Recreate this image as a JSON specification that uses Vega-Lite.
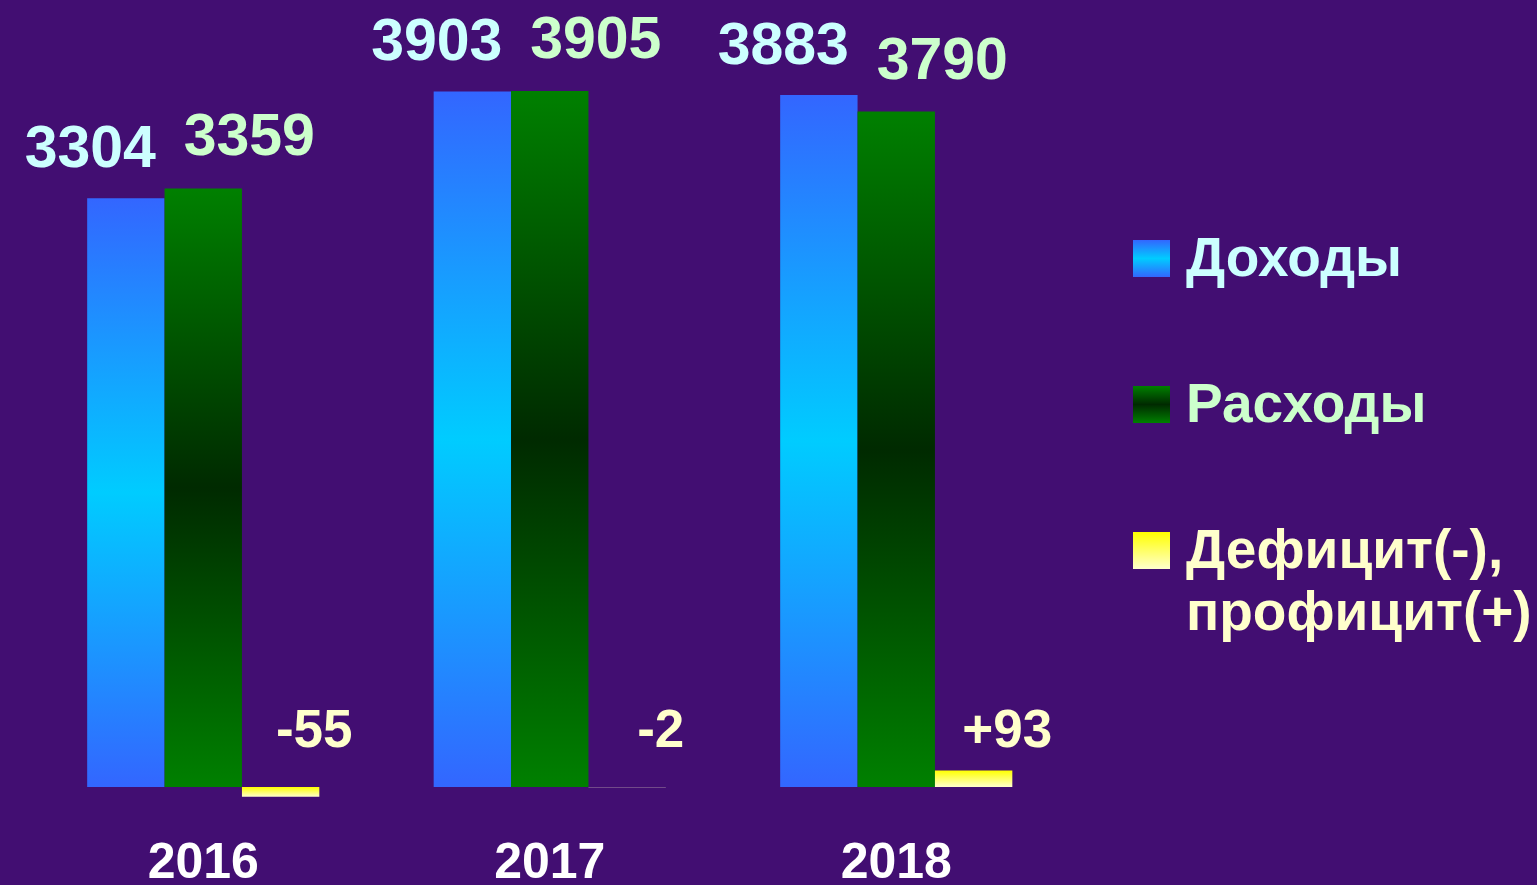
{
  "$schema": "https://vega.github.io/schema/vega-lite/v6.json",
  "width": 1039.5,
  "height": 810,
  "autosize": {"type": "none"},
  "padding": {"left": 30, "top": 0, "right": 467.5, "bottom": 75},
  "background": "#420e72",
  "config": {"view": {"stroke": null}, "font": "Liberation Sans"},
  "data": {
    "values": [
      {"year": "2016", "series": "Доходы", "value": 3304},
      {"year": "2016", "series": "Расходы", "value": 3359},
      {"year": "2016", "series": "Дефицит(-), профицит(+)", "value": -55},
      {"year": "2017", "series": "Доходы", "value": 3903},
      {"year": "2017", "series": "Расходы", "value": 3905},
      {"year": "2017", "series": "Дефицит(-), профицит(+)", "value": -2},
      {"year": "2018", "series": "Доходы", "value": 3883},
      {"year": "2018", "series": "Расходы", "value": 3790},
      {"year": "2018", "series": "Дефицит(-), профицит(+)", "value": 93}
    ]
  },
  "encoding": {
    "x": {
      "field": "year",
      "type": "nominal",
      "scale": {"paddingInner": 0.33, "paddingOuter": 0.165},
      "axis": {
        "title": null,
        "labelAngle": 0,
        "labelFontSize": 50,
        "labelFontWeight": "bold",
        "labelColor": "#ffffff",
        "ticks": false,
        "domain": false,
        "labelPadding": 27
      }
    },
    "y": {
      "field": "value",
      "type": "quantitative",
      "scale": {"domain": [-129, 4416], "nice": false, "zero": false},
      "axis": null
    }
  },
  "layer": [
    {
      "mark": {"type": "bar"},
      "encoding": {
        "xOffset": {
          "field": "series",
          "type": "nominal",
          "sort": ["Доходы", "Расходы", "Дефицит(-), профицит(+)"],
          "scale": {"paddingInner": 0, "paddingOuter": 0}
        },
        "color": {
          "field": "series",
          "type": "nominal",
          "scale": {
            "domain": ["Доходы", "Расходы", "Дефицит(-), профицит(+)"],
            "range": [
              {"expr": "{gradient: 'linear', x1: 0, y1: 0, x2: 0, y2: 1, stops: [{offset: 0, color: '#3366ff'}, {offset: 0.5, color: '#00ccff'}, {offset: 1, color: '#3366ff'}]}"},
              {"expr": "{gradient: 'linear', x1: 0, y1: 0, x2: 0, y2: 1, stops: [{offset: 0, color: '#008000'}, {offset: 0.5, color: '#002a00'}, {offset: 1, color: '#008000'}]}"},
              {"expr": "{gradient: 'linear', x1: 0, y1: 0, x2: 0, y2: 1, stops: [{offset: 0, color: '#ffff00'}, {offset: 1, color: '#ffffcc'}]}"}
            ]
          },
          "legend": {
            "title": null,
            "orient": "none",
            "legendX": 1094,
            "legendY": 231,
            "padding": 0,
            "symbolType": "square",
            "symbolSize": 1369,
            "symbolStrokeWidth": 0,
            "symbolOpacity": 1,
            "labelFontSize": 55,
            "labelFontWeight": "bold",
            "labelColor": "#ccffff",
            "labelOffset": 7,
            "labelLimit": 0,
            "rowPadding": 90,
            "labelExpr": "split(datum.label, ' ')",
            "encode": {
              "labels": {
                "update": {
                  "lineHeight": {"value": 62},
                  "fill": {"signal": "datum.label == 'Доходы' ? '#ccffff' : (datum.label == 'Расходы' ? '#ccffcc' : '#ffffcc')"}
                }
              }
            }
          }
        }
      }
    },
    {
      "transform": [{"filter": "datum.series == 'Доходы'"}],
      "mark": {"type": "text", "fontSize": 59, "fontWeight": "bold", "color": "#ccffff", "baseline": "alphabetic", "dx": -113, "dy": -31},
      "encoding": {
        "text": {"field": "value", "type": "quantitative", "format": "d"}
      }
    },
    {
      "transform": [{"filter": "datum.series == 'Расходы'"}],
      "mark": {"type": "text", "fontSize": 59, "fontWeight": "bold", "color": "#ccffcc", "baseline": "alphabetic", "dx": 46, "dy": -33},
      "encoding": {
        "text": {"field": "value", "type": "quantitative", "format": "d"}
      }
    },
    {
      "transform": [
        {"filter": "datum.series == 'Дефицит(-), профицит(+)'"},
        {"calculate": "(datum.value > 0 ? '+' : '') + datum.value", "as": "label"}
      ],
      "mark": {"type": "text", "fontSize": 53, "fontWeight": "bold", "color": "#ffffcc", "baseline": "alphabetic", "dx": 111, "dy": -40},
      "encoding": {
        "y": {"datum": 0, "type": "quantitative"},
        "text": {"field": "label", "type": "nominal"}
      }
    }
  ]
}
